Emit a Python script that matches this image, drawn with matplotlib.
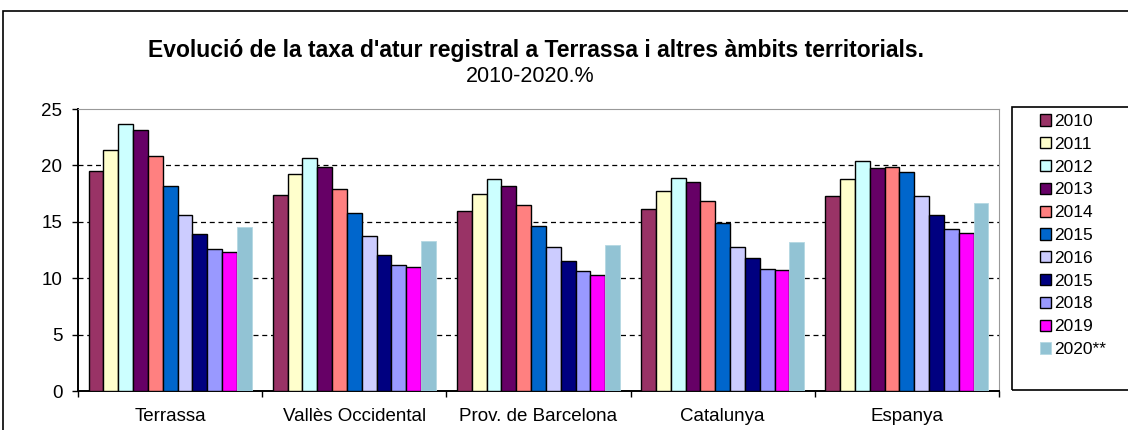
import matplotlib
matplotlib.use("Agg")
import matplotlib.pyplot as plt
import numpy as np
from matplotlib.patches import Rectangle

plt.rcParams['font.family'] = ['Liberation Sans', 'DejaVu Sans']

categories = ["Terrassa", "Vallès Occidental", "Prov. de Barcelona", "Catalunya", "Espanya"]
series_labels = ["2010", "2011", "2012", "2013", "2014", "2015", "2016", "2015", "2018", "2019", "2020**"]
values = [
    [19.5, 17.4, 16.0, 16.1, 17.3],   # 2010
    [21.4, 19.2, 17.5, 17.7, 18.8],   # 2011
    [23.7, 20.7, 18.8, 18.9, 20.4],   # 2012
    [23.1, 19.9, 18.2, 18.5, 19.8],   # 2013
    [20.8, 17.9, 16.5, 16.8, 19.9],   # 2014
    [18.2, 15.8, 14.6, 14.9, 19.4],   # 2015
    [15.6, 13.7, 12.8, 12.8, 17.3],   # 2016
    [13.9, 12.1, 11.5, 11.8, 15.6],   # 2015 (sic)
    [12.6, 11.2, 10.6, 10.8, 14.4],   # 2018
    [12.3, 11.0, 10.3, 10.7, 14.0],   # 2019
    [14.5, 13.3, 12.9, 13.2, 16.7],   # 2020**
]
colors = ["#993366", "#FFFFCC", "#CCFFFF", "#660066", "#FF8080", "#0066CC",
          "#CCCCFF", "#000080", "#9999FF", "#FF00FF", "#92C3D4"]
yticks = [0, 5, 10, 15, 20, 25]

W, H = 1128, 430
fig = plt.figure(figsize=(W / 100, H / 100), dpi=100)
ax = fig.add_axes([78 / W, 1 - 391 / H, (999 - 78) / W, (391 - 109) / H])

n = len(series_labels)
bw = 0.0805
x = np.arange(len(categories))
for i, (lab, vals, c) in enumerate(zip(series_labels, values, colors)):
    pos = x + (i - (n - 1) / 2) * bw
    if i == n - 1:
        ax.bar(pos, vals, width=bw, color=c, edgecolor="#B4D8E2", linewidth=0.6, label=lab, zorder=3)
    else:
        ax.bar(pos, vals, width=bw, color=c, edgecolor="black", linewidth=1.0, label=lab, zorder=3)

ax.set_xlim(-0.5, len(categories) - 0.5)
ax.set_ylim(0, 25)
ax.set_yticks(yticks)
ax.set_yticklabels([str(v) for v in yticks], fontsize=13.5)
for v in yticks[1:-1]:
    ax.axhline(v, color="black", linestyle=(0, (4, 3)), linewidth=0.9, zorder=1)

ax.set_xticks(np.arange(len(categories) + 1) - 0.5)
ax.set_xticklabels([])
ax.set_xticks(x, minor=True)
ax.set_xticklabels(categories, minor=True, fontsize=13.5)
ax.tick_params(axis="x", which="minor", length=0, pad=12)
ax.tick_params(axis="x", which="major", length=4, width=1, direction="out", color="black")
ax.tick_params(axis="y", length=4.3, width=1, direction="out", pad=7)

ax.spines["left"].set_color("black")
ax.spines["bottom"].set_color("black")
ax.spines["left"].set_linewidth(1.4)
ax.spines["bottom"].set_linewidth(1.4)
ax.spines["top"].set_color("#999999")
ax.spines["right"].set_color("#999999")

fig.text(536 / W, 1 - 50 / H, "Evolució de la taxa d'atur registral a Terrassa i altres àmbits territorials.",
         ha="center", va="center", fontsize=16.5, fontweight="bold")
fig.text(530 / W, 1 - 77 / H, "2010-2020.%", ha="center", va="center", fontsize=15.5)

fig.patches.append(Rectangle((3 / W, -0.01), 1.2, 1 - 11 / H + 0.01, transform=fig.transFigure,
                             fill=False, edgecolor="black", linewidth=1.2))
# legend box
fig.patches.append(Rectangle((1012 / W, 1 - 390 / H), 0.2, (390 - 107) / H, transform=fig.transFigure,
                             fill=False, edgecolor="black", linewidth=1.2))

leg = fig.legend(loc="upper left", bbox_to_anchor=(1040 / W, 1 - 114 / H), fontsize=12.5,
                 frameon=False, handlelength=0.62, handleheight=0.62,
                 handletextpad=0.2, labelspacing=0.45, borderpad=0, borderaxespad=0)

fig.savefig("out.png", dpi=100)
